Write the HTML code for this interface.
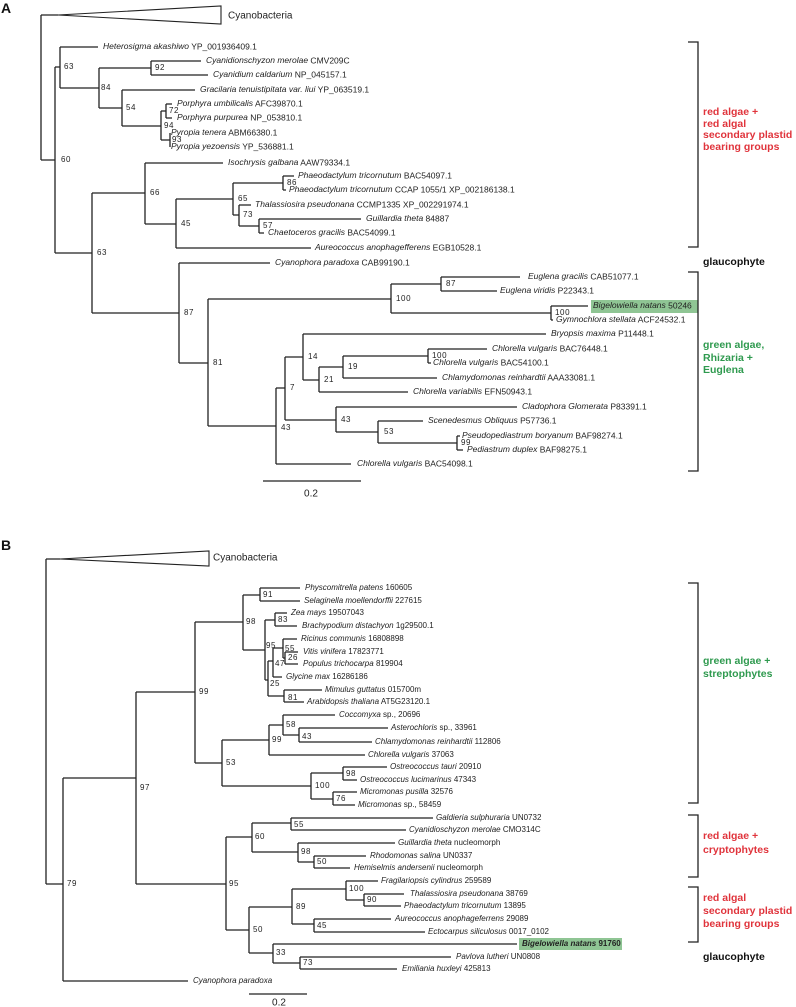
<!DOCTYPE html>
<html><head><meta charset="utf-8"><style>
html,body{margin:0;padding:0;background:#fff;}
svg{display:block;}
text{font-family:"Liberation Sans",Arial,sans-serif;fill:#222;}
.la{font-size:8.5px;dominant-baseline:middle;}
.lb{font-size:8px;dominant-baseline:middle;}
.i{font-style:italic;}
.n{font-size:8px;letter-spacing:0.6px;dominant-baseline:middle;}
.g{font-size:10.5px;font-weight:bold;dominant-baseline:middle;}
.red{fill:#e0343c;} .grn{fill:#2f9a4f;} .blk{fill:#111;}
path{fill:none;stroke:#222;stroke-width:1.3;}
</style></head><body>
<svg width="796" height="1007" viewBox="0 0 796 1007" xmlns="http://www.w3.org/2000/svg">
<text x="1" y="13" style="font-size:14px;font-weight:bold;fill:#111">A</text>
<polygon points="58,15 221,6 221,24" fill="none" stroke="#222" stroke-width="1.1"/>
<text x="228" y="16" style="font-size:10px;dominant-baseline:middle">Cyanobacteria</text>
<rect x="591" y="300" width="107" height="13" fill="#8fc594"/>
<path d="M41 15 V160 M41 15 H58 M41 160 H55 M55 67 V253
M55 67 H60 M60 47 V88 M60 47 H98 M60 88 H99 M99 68 V108
M99 68 H151 M151 61 V75 M151 61 H201 M151 75 H208
M99 108 H122 M122 90 V126 M122 90 H195 M122 126 H161 M161 111 V140
M161 111 H166 M166 104 V118 M166 104 H172 M166 118 H172 M161 140 H170 M170 133 V147
M55 253 H92 M92 193 V313
M92 193 H145 M145 163 V224 M145 163 H223 M145 224 H176 M176 199 V248
M176 199 H233 M233 183 V215 M233 183 H283 M283 176 V190 M283 176 H294 M283 190 H286
M233 215 H239 M239 205 V226 M239 205 H251 M239 226 H259 M259 219 V233 M259 219 H361 M259 233 H264
M176 248 H311
M92 313 H179 M179 263 V363 M179 263 H270 M179 363 H208 M208 299 V426
M208 299 H391 M391 284 V313 M391 284 H441 M441 277 V291 M441 277 H520 M441 291 H497
M391 313 H551 M551 306 V320 M551 306 H588 M551 320 H553
M208 426 H276 M276 388 V464 M276 464 H351
M276 388 H285 M285 357 V420
M285 357 H303 M303 334 V380 M303 334 H546
M303 380 H319 M319 367 V392 M319 392 H408
M319 367 H343 M343 356 V378 M343 378 H437
M343 356 H428 M428 349 V363 M428 349 H487 M428 363 H431
M285 420 H336 M336 407 V432 M336 407 H517
M336 432 H378 M378 421 V443 M378 421 H423
M378 443 H457 M457 436 V450 M457 436 H460 M457 450 H463
M263 481 H361
M688 42 H698 V247 H688 M688 272 H698 V471 H688"/>
<g class="la">
<text x="103" y="47"><tspan class="i">Heterosigma akashiwo</tspan> YP_001936409.1</text>
<text x="206" y="61"><tspan class="i">Cyanidionschyzon merolae</tspan> CMV209C</text>
<text x="213" y="75"><tspan class="i">Cyanidium caldarium</tspan> NP_045157.1</text>
<text x="200" y="90"><tspan class="i">Gracilaria tenuistipitata var. liui</tspan> YP_063519.1</text>
<text x="177" y="104"><tspan class="i">Porphyra umbilicalis</tspan> AFC39870.1</text>
<text x="177" y="118"><tspan class="i">Porphyra purpurea</tspan> NP_053810.1</text>
<text x="171" y="133"><tspan class="i">Pyropia tenera</tspan> ABM66380.1</text>
<text x="171" y="147"><tspan class="i">Pyropia yezoensis</tspan> YP_536881.1</text>
<text x="228" y="163"><tspan class="i">Isochrysis galbana</tspan> AAW79334.1</text>
<text x="298" y="176"><tspan class="i">Phaeodactylum tricornutum</tspan> BAC54097.1</text>
<text x="289" y="190"><tspan class="i">Phaeodactylum tricornutum</tspan> CCAP 1055/1 XP_002186138.1</text>
<text x="255" y="205"><tspan class="i">Thalassiosira pseudonana</tspan> CCMP1335 XP_002291974.1</text>
<text x="366" y="219"><tspan class="i">Guillardia theta</tspan> 84887</text>
<text x="268" y="233"><tspan class="i">Chaetoceros gracilis</tspan> BAC54099.1</text>
<text x="315" y="248"><tspan class="i">Aureococcus anophagefferens</tspan> EGB10528.1</text>
<text x="275" y="263"><tspan class="i">Cyanophora paradoxa</tspan> CAB99190.1</text>
<text x="528" y="277"><tspan class="i">Euglena gracilis</tspan> CAB51077.1</text>
<text x="500" y="291"><tspan class="i">Euglena viridis</tspan> P22343.1</text>
<text x="593" y="306"><tspan class="i">Bigelowiella natans</tspan> 50246</text>
<text x="556" y="320"><tspan class="i">Gymnochlora stellata</tspan> ACF24532.1</text>
<text x="551" y="334"><tspan class="i">Bryopsis maxima</tspan> P11448.1</text>
<text x="492" y="349"><tspan class="i">Chlorella vulgaris</tspan> BAC76448.1</text>
<text x="433" y="363"><tspan class="i">Chlorella vulgaris</tspan> BAC54100.1</text>
<text x="442" y="378"><tspan class="i">Chlamydomonas reinhardtii</tspan> AAA33081.1</text>
<text x="413" y="392"><tspan class="i">Chlorella variabilis</tspan> EFN50943.1</text>
<text x="522" y="407"><tspan class="i">Cladophora Glomerata</tspan> P83391.1</text>
<text x="428" y="421"><tspan class="i">Scenedesmus Obliquus</tspan> P57736.1</text>
<text x="462" y="436"><tspan class="i">Pseudopediastrum boryanum</tspan> BAF98274.1</text>
<text x="467" y="450"><tspan class="i">Pediastrum duplex</tspan> BAF98275.1</text>
<text x="357" y="464"><tspan class="i">Chlorella vulgaris</tspan> BAC54098.1</text>
</g>
<g class="n">
<text x="64" y="67">63</text><text x="101" y="88">84</text><text x="155" y="68">92</text>
<text x="126" y="108">54</text><text x="169" y="111">72</text><text x="164" y="126">94</text>
<text x="172" y="140">93</text><text x="61" y="160">60</text><text x="150" y="193">66</text>
<text x="181" y="224">45</text><text x="238" y="199">65</text><text x="287" y="183">86</text>
<text x="243" y="215">73</text><text x="263" y="226">57</text><text x="97" y="253">63</text>
<text x="184" y="313">87</text><text x="213" y="363">81</text><text x="396" y="299">100</text>
<text x="446" y="284">87</text><text x="555" y="313">100</text><text x="308" y="357">14</text>
<text x="324" y="380">21</text><text x="348" y="367">19</text><text x="432" y="356">100</text>
<text x="290" y="388">7</text><text x="281" y="428">43</text><text x="341" y="420">43</text>
<text x="384" y="432">53</text><text x="461" y="443">99</text>
</g>
<text x="311" y="494" text-anchor="middle" style="font-size:10px;dominant-baseline:middle">0.2</text>
<text class="g red" x="703" y="112">red algae +</text>
<text class="g red" x="703" y="124">red algal</text>
<text class="g red" x="703" y="135">secondary plastid</text>
<text class="g red" x="703" y="147">bearing groups</text>
<text class="g blk" x="703" y="262">glaucophyte</text>
<text class="g grn" x="703" y="345">green algae,</text>
<text class="g grn" x="703" y="358">Rhizaria +</text>
<text class="g grn" x="703" y="370">Euglena</text>

<text x="1" y="550" style="font-size:14px;font-weight:bold;fill:#111">B</text>
<polygon points="60,559 209,551 209,566" fill="none" stroke="#222" stroke-width="1.1"/>
<text x="213" y="558" style="font-size:10px;dominant-baseline:middle">Cyanobacteria</text>
<rect x="519" y="938" width="103" height="12" fill="#8fc594"/>
<path d="M46 559 V884 M46 559 H60 M46 884 H63 M63 778 V981 M63 981 H188
M63 778 H136 M136 692 V884
M136 692 H195 M195 622 V763
M195 622 H243 M243 595 V650
M243 595 H260 M260 588 V601 M260 588 H300 M260 601 H300
M243 650 H265 M265 620 V680
M265 620 H275 M275 613 V626 M275 613 H287 M275 626 H297
M265 680 H268 M268 661 V696
M268 661 H273 M273 648 V677 M273 677 H282
M273 648 H283 M283 639 V658 M283 639 H297
M283 658 H285 M285 652 V664 M285 652 H298 M285 664 H298
M268 696 H284 M284 690 V702 M284 690 H322 M284 702 H304
M195 763 H222 M222 740 V786
M222 740 H269 M269 725 V755 M269 755 H365
M269 725 H283 M283 715 V735 M283 715 H335
M283 735 H299 M299 728 V742 M299 728 H388 M299 742 H372
M222 786 H311 M311 773 V799
M311 773 H343 M343 767 V780 M343 767 H387 M343 780 H357
M311 799 H333 M333 792 V805 M333 792 H357 M333 805 H355
M136 884 H226 M226 837 V930
M226 837 H252 M252 823 V852
M252 823 H291 M291 818 V830 M291 818 H433 M291 830 H406
M252 852 H298 M298 843 V862 M298 843 H395
M298 862 H314 M314 856 V868 M314 856 H366 M314 868 H350
M226 930 H249 M249 907 V953
M249 907 H292 M292 889 V924
M292 889 H346 M346 881 V900 M346 881 H378
M346 900 H364 M364 894 V906 M364 894 H404 M364 906 H401
M292 924 H314 M314 919 V932 M314 919 H391 M314 932 H425
M249 953 H273 M273 944 V963 M273 944 H517
M273 963 H300 M300 957 V969 M300 957 H451 M300 969 H397
M249 994 H307
M688 583 H698 V803 H688 M688 815 H698 V877 H688 M688 887 H698 V942 H688"/>
<g class="lb">
<text x="305" y="588"><tspan class="i">Physcomitrella patens</tspan> 160605</text>
<text x="304" y="601"><tspan class="i">Selaginella moellendorffii</tspan> 227615</text>
<text x="291" y="613"><tspan class="i">Zea mays</tspan> 19507043</text>
<text x="302" y="626"><tspan class="i">Brachypodium distachyon</tspan> 1g29500.1</text>
<text x="301" y="639"><tspan class="i">Ricinus communis</tspan> 16808898</text>
<text x="303" y="652"><tspan class="i">Vitis vinifera</tspan> 17823771</text>
<text x="303" y="664"><tspan class="i">Populus trichocarpa</tspan> 819904</text>
<text x="286" y="677"><tspan class="i">Glycine max</tspan> 16286186</text>
<text x="325" y="690"><tspan class="i">Mimulus guttatus</tspan> 015700m</text>
<text x="307" y="702"><tspan class="i">Arabidopsis thaliana</tspan> AT5G23120.1</text>
<text x="339" y="715"><tspan class="i">Coccomyxa</tspan> sp., 20696</text>
<text x="391" y="728"><tspan class="i">Asterochloris</tspan> sp., 33961</text>
<text x="375" y="742"><tspan class="i">Chlamydomonas reinhardtii</tspan> 112806</text>
<text x="368" y="755"><tspan class="i">Chlorella vulgaris</tspan> 37063</text>
<text x="390" y="767"><tspan class="i">Ostreococcus tauri</tspan> 20910</text>
<text x="360" y="780"><tspan class="i">Ostreococcus lucimarinus</tspan> 47343</text>
<text x="360" y="792"><tspan class="i">Micromonas pusilla</tspan> 32576</text>
<text x="358" y="805"><tspan class="i">Micromonas</tspan> sp., 58459</text>
<text x="436" y="818"><tspan class="i">Galdieria sulphuraria</tspan> UN0732</text>
<text x="409" y="830"><tspan class="i">Cyanidioschyzon merolae</tspan> CMO314C</text>
<text x="398" y="843"><tspan class="i">Guillardia theta</tspan> nucleomorph</text>
<text x="370" y="856"><tspan class="i">Rhodomonas salina</tspan> UN0337</text>
<text x="354" y="868"><tspan class="i">Hemiselmis andersenii</tspan> nucleomorph</text>
<text x="381" y="881"><tspan class="i">Fragilariopsis cylindrus</tspan> 259589</text>
<text x="410" y="894"><tspan class="i">Thalassiosira pseudonana</tspan> 38769</text>
<text x="404" y="906"><tspan class="i">Phaeodactylum tricornutum</tspan> 13895</text>
<text x="395" y="919"><tspan class="i">Aureococcus anophageferrens</tspan> 29089</text>
<text x="428" y="932"><tspan class="i">Ectocarpus siliculosus</tspan> 0017_0102</text>
<text x="522" y="944" style="font-weight:bold"><tspan class="i">Bigelowiella natans</tspan> 91760</text>
<text x="456" y="957"><tspan class="i">Pavlova lutheri</tspan> UN0808</text>
<text x="402" y="969"><tspan class="i">Emiliania huxleyi</tspan> 425813</text>
<text x="193" y="981"><tspan class="i">Cyanophora paradoxa</tspan></text>
</g>
<g class="n">
<text x="263" y="595">91</text><text x="246" y="622">98</text><text x="278" y="620">83</text>
<text x="266" y="646">95</text><text x="285" y="649">55</text><text x="288" y="658">26</text>
<text x="275" y="664">47</text><text x="270" y="684">25</text><text x="288" y="698">81</text>
<text x="199" y="692">99</text><text x="286" y="725">58</text><text x="302" y="737">43</text>
<text x="272" y="740">99</text><text x="226" y="763">53</text><text x="346" y="774">98</text>
<text x="315" y="786">100</text><text x="336" y="799">76</text><text x="140" y="788">97</text>
<text x="294" y="825">55</text><text x="255" y="837">60</text><text x="301" y="852">98</text>
<text x="317" y="862">50</text><text x="229" y="884">95</text><text x="67" y="884">79</text>
<text x="349" y="889">100</text><text x="367" y="900">90</text><text x="296" y="907">89</text>
<text x="317" y="926">45</text><text x="253" y="930">50</text><text x="276" y="953">33</text>
<text x="303" y="963">73</text>
</g>
<text x="279" y="1003" text-anchor="middle" style="font-size:10px;dominant-baseline:middle">0.2</text>
<text class="g grn" x="703" y="661">green algae +</text>
<text class="g grn" x="703" y="674">streptophytes</text>
<text class="g red" x="703" y="836">red algae +</text>
<text class="g red" x="703" y="850">cryptophytes</text>
<text class="g red" x="703" y="898">red algal</text>
<text class="g red" x="703" y="911">secondary plastid</text>
<text class="g red" x="703" y="924">bearing groups</text>
<text class="g blk" x="703" y="957">glaucophyte</text>
</svg>
</body></html>
